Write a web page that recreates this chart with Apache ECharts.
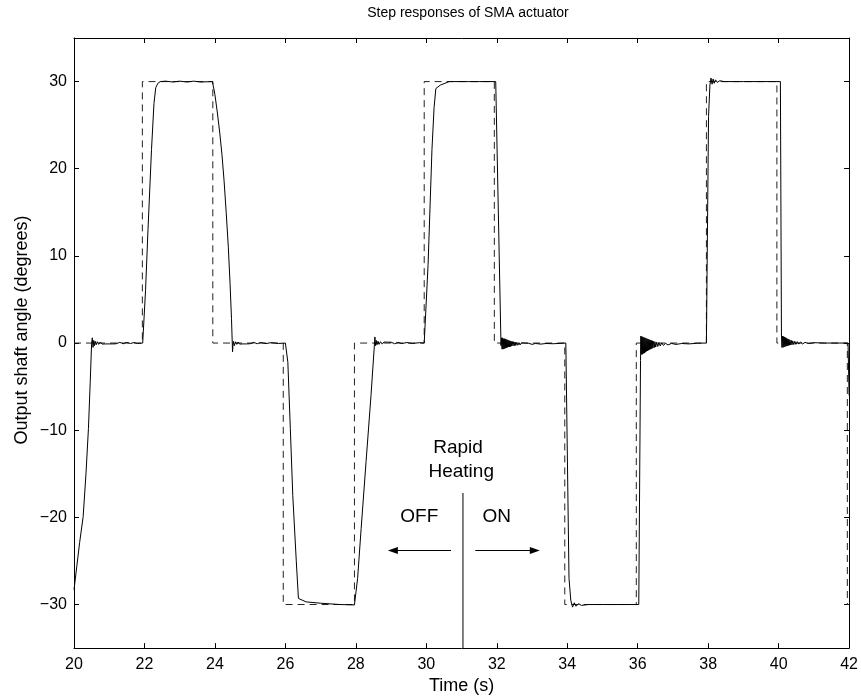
<!DOCTYPE html>
<html>
<head>
<meta charset="utf-8">
<script src="https://cdn.jsdelivr.net/npm/echarts@6/dist/echarts.min.js"></script>
<style>
html,body{margin:0;padding:0;background:#fff;}
#chart{width:861px;height:700px;}
</style>
</head>
<body>
<div id="chart"></div>
<script>
// ---- Data ----
var xTicks = [20, 22, 24, 26, 28, 30, 32, 34, 36, 38, 40, 42];
var yTicks = [-30, -20, -10, 0, 10, 20, 30];

// Reference command (dashed), [time s, angle deg]
var reference = [
  [20, 0], [21.94, 0], [21.94, 30], [23.94, 30], [23.94, 0], [25.94, 0], [25.94, -30],
  [27.96, -30], [27.96, 0], [29.94, 0], [29.94, 30], [31.93, 30], [31.93, 0],
  [33.93, 0], [33.93, -30], [35.96, -30], [35.96, 0], [37.95, 0], [37.95, 30],
  [39.95, 30], [39.95, 0], [41.95, 0], [41.95, -30], [42, -30]
];

// Measured response, rapid heating OFF (20 - 31 s)
var responseOff = [
  [20.00, -28.3], [20.08, -25.6], [20.16, -22.9], [20.26, -19.9], [20.34, -15.0],
  [20.41, -9.8], [20.46, -4.5], [20.50, 0.0], [20.52, 0.6], [20.54, -0.5], [20.56, 0.3],
  [20.58, -0.3], [20.60, 0.2], [20.63, -0.2], [20.66, 0.15], [20.70, -0.15], [20.75, 0.12],
  [20.80, -0.12], [20.85, 0.1], [20.90, -0.1], [20.95, 0.1], [21.00, -0.1], [21.05, 0.1],
  [21.10, -0.1], [21.15, 0.08], [21.20, -0.08], [21.30, 0.08], [21.40, -0.08], [21.50, 0.08],
  [21.60, -0.06], [21.70, 0.06], [21.80, -0.05], [21.95, 0.0],
  [22.03, 6.0], [22.10, 13.0], [22.20, 22.2], [22.27, 27.5], [22.32, 29.3], [22.38, 29.8],
  [22.45, 30.0], [22.60, 30.05], [22.80, 29.95], [23.00, 30.05], [23.20, 29.95], [23.40, 30.05],
  [23.60, 29.95], [23.93, 30.0],
  [24.00, 28.5], [24.07, 26.4], [24.14, 24.0], [24.20, 21.6], [24.26, 18.6], [24.32, 15.0],
  [24.38, 11.0], [24.43, 6.8], [24.47, 2.8], [24.50, -1.0], [24.52, 0.2], [24.55, -0.3],
  [24.58, 0.15], [24.62, -0.15], [24.66, 0.12], [24.70, -0.12], [24.75, 0.1], [24.80, -0.1],
  [24.85, 0.1], [24.90, -0.1], [24.95, 0.08], [25.00, -0.08], [25.10, 0.08], [25.20, -0.08],
  [25.30, 0.06], [25.45, -0.06], [25.60, 0.05], [25.80, -0.05], [26.00, 0.0],
  [26.07, -2.2], [26.14, -9.8], [26.21, -17.5], [26.31, -25.1], [26.37, -29.3], [26.59, -29.7],
  [27.00, -29.85], [27.54, -30.0], [27.96, -30.05],
  [28.05, -27.0], [28.15, -21.3], [28.29, -13.6], [28.43, -6.0], [28.53, 0.0], [28.54, 0.7],
  [28.56, -0.3], [28.58, 0.3], [28.60, -0.2], [28.63, 0.2], [28.66, -0.15], [28.70, 0.15],
  [28.75, -0.12], [28.80, 0.12], [28.85, -0.1], [28.90, 0.1], [28.95, -0.1], [29.00, 0.1],
  [29.10, -0.08], [29.20, 0.08], [29.30, -0.06], [29.45, 0.06], [29.60, -0.05], [29.80, 0.04],
  [29.94, 0.0],
  [30.05, 9.0], [30.16, 22.2], [30.22, 27.0], [30.27, 29.2], [30.40, 29.6], [30.65, 30.0],
  [30.90, 30.0]
];

// Measured response, rapid heating ON (31 - 42 s)
var responseOn = [
  [30.90, 30.0], [31.20, 30.0], [31.50, 30.0], [31.97, 30.0],
  [32.12, -0.3], [32.135, 0.6], [32.15, -0.7], [32.165, 0.6], [32.18, -0.7], [32.195, 0.5],
  [32.21, -0.65], [32.225, 0.5], [32.24, -0.6], [32.255, 0.45], [32.27, -0.55], [32.285, 0.4],
  [32.30, -0.5], [32.315, 0.35], [32.33, -0.45], [32.345, 0.3], [32.36, -0.42], [32.375, 0.25],
  [32.39, -0.4], [32.405, 0.22], [32.42, -0.35], [32.44, 0.18], [32.46, -0.32], [32.48, 0.15],
  [32.50, -0.3], [32.52, 0.1], [32.54, -0.28], [32.57, 0.08], [32.60, -0.25], [32.63, 0.05],
  [32.66, -0.22], [32.70, 0.02], [32.74, -0.2], [32.78, 0.0], [32.83, -0.18], [32.90, -0.02],
  [33.00, -0.15], [33.10, -0.05], [33.25, -0.12], [33.40, -0.05], [33.60, -0.08], [33.96, 0.0],
  [34.05, -27.0], [34.10, -29.5], [34.15, -30.3], [34.20, -29.8], [34.25, -30.2], [34.32, -29.9],
  [34.40, -30.1], [34.60, -30.0], [35.00, -30.0], [35.50, -30.0], [36.03, -30.0],
  [36.08, -2.0], [36.09, 0.8], [36.10, -1.3], [36.115, 0.75], [36.13, -1.3], [36.145, 0.7],
  [36.16, -1.2], [36.175, 0.65], [36.19, -1.15], [36.205, 0.6], [36.22, -1.05], [36.235, 0.55],
  [36.25, -0.95], [36.265, 0.5], [36.28, -0.9], [36.295, 0.45], [36.31, -0.82], [36.325, 0.4],
  [36.34, -0.75], [36.355, 0.35], [36.37, -0.7], [36.385, 0.3], [36.40, -0.64], [36.415, 0.26],
  [36.43, -0.58], [36.45, 0.2], [36.47, -0.52], [36.49, 0.15], [36.51, -0.46], [36.54, 0.1],
  [36.57, -0.4], [36.60, 0.05], [36.64, -0.34], [36.68, 0.02], [36.73, -0.28], [36.79, -0.02],
  [36.86, -0.22], [36.96, -0.04], [37.08, -0.16], [37.25, -0.05], [37.45, -0.1], [37.70, -0.02],
  [37.95, 0.0],
  [38.01, 26.0], [38.05, 29.6], [38.08, 30.4], [38.11, 29.7], [38.14, 30.3], [38.17, 29.8],
  [38.21, 30.2], [38.26, 29.9], [38.33, 30.1], [38.45, 30.0], [39.00, 30.0], [39.50, 30.0],
  [40.05, 30.0],
  [40.08, 0.8], [40.095, -0.5], [40.11, 0.8], [40.125, -0.5], [40.14, 0.75], [40.155, -0.45],
  [40.17, 0.7], [40.185, -0.4], [40.20, 0.62], [40.215, -0.36], [40.23, 0.55], [40.245, -0.32],
  [40.26, 0.48], [40.275, -0.28], [40.29, 0.42], [40.305, -0.25], [40.32, 0.36], [40.34, -0.22],
  [40.36, 0.3], [40.38, -0.2], [40.40, 0.25], [40.43, -0.17], [40.46, 0.2], [40.49, -0.15],
  [40.53, 0.16], [40.57, -0.12], [40.62, 0.12], [40.68, -0.1], [40.75, 0.08], [40.85, -0.06],
  [41.00, 0.04], [41.30, 0.0], [41.70, 0.0], [41.97, 0.0], [42.00, -6.0]
];

// Annotation
var divider = [[31.04, -17.2], [31.04, -35]];
var arrowOff = [[30.70, -23.8], [29.05, -23.8]];
var arrowOn = [[31.39, -23.8], [33.08, -23.8]];
var annotations = [
  { name: 'Rapid', value: [30.90, -12.0] },
  { name: 'Heating', value: [30.99, -14.8] },
  { name: 'OFF', value: [29.80, -19.9] },
  { name: 'ON', value: [32.00, -19.9] }
];

// ---- Chart ----
var FONT = '"Liberation Sans", Arial, Helvetica, sans-serif';
var minusFmt = function (v) { return String(v).replace('-', '\u2212'); };

function xAxisDef(pos, showLabel) {
  return {
    type: 'value', position: pos, min: 20, max: 42, interval: 2,
    name: pos === 'bottom' ? 'Time (s)' : '', nameLocation: 'middle', nameGap: 25,
    nameTextStyle: { fontFamily: FONT, fontSize: 18, color: '#000' },
    axisLine: { show: true, onZero: false, lineStyle: { color: '#000', width: 1 } },
    axisTick: { show: true, inside: true, length: 5, customValues: xTicks, lineStyle: { color: '#000' } },
    axisLabel: { show: showLabel, customValues: xTicks, margin: 8, fontFamily: FONT, fontSize: 16, color: '#000', formatter: minusFmt },
    splitLine: { show: false }
  };
}
function yAxisDef(pos, showLabel) {
  return {
    type: 'value', position: pos, min: -35, max: 35,
    axisLine: { show: true, onZero: false, lineStyle: { color: '#000', width: 1 } },
    axisTick: { show: true, inside: true, length: 5, customValues: yTicks, lineStyle: { color: '#000' } },
    axisLabel: { show: showLabel, customValues: yTicks, margin: 7, fontFamily: FONT, fontSize: 16, color: '#000', formatter: minusFmt },
    splitLine: { show: false }
  };
}

var chart = echarts.init(document.getElementById('chart'), null, { renderer: 'canvas' });
chart.setOption({
  animation: false,
  backgroundColor: '#fff',
  title: {
    text: 'Step responses of SMA actuator', left: 463, top: 1, textAlign: 'center',
    textStyle: { fontFamily: FONT, fontSize: 14, fontWeight: 'normal', color: '#000' }
  },
  graphic: [{
    type: 'text', x: 22, y: 330, rotation: Math.PI / 2, silent: true,
    style: {
      text: 'Output shaft angle (degrees)', fontFamily: FONT, fontSize: 18, fill: '#000',
      align: 'center', verticalAlign: 'middle'
    }
  }],
  grid: { left: 74, right: 10, top: 38, bottom: 49.5, containLabel: false },
  xAxis: [xAxisDef('bottom', true), xAxisDef('top', false)],
  yAxis: [yAxisDef('left', true), yAxisDef('right', false)],
  series: [
    {
      type: 'line', data: reference, showSymbol: false, symbol: 'none',
      lineStyle: { color: '#222', width: 1, type: [7, 5] }, silent: true
    },
    {
      type: 'line', data: responseOff, showSymbol: false, symbol: 'none',
      lineStyle: { color: '#000', width: 1 }, silent: true
    },
    {
      type: 'line', data: responseOn, showSymbol: false, symbol: 'none',
      lineStyle: { color: '#000', width: 1 }, silent: true
    },
    {
      type: 'line', data: divider, showSymbol: false, symbol: 'none',
      lineStyle: { color: '#000', width: 1 }, silent: true
    },
    {
      type: 'line', data: [], silent: true,
      markLine: {
        silent: true, animation: false, symbol: ['none', 'triangle'], symbolSize: [7, 10],
        lineStyle: { color: '#000', type: 'solid', width: 1 },
        label: { show: false },
        data: [
          [{ coord: arrowOff[0] }, { coord: arrowOff[1] }],
          [{ coord: arrowOn[0] }, { coord: arrowOn[1] }]
        ]
      }
    },
    {
      type: 'scatter', data: annotations, symbolSize: 0, silent: true,
      itemStyle: { color: '#000', opacity: 0 },
      label: {
        show: true, position: [0, 0], align: 'center', verticalAlign: 'middle', formatter: '{b}',
        fontFamily: FONT, fontSize: 19, color: '#000', opacity: 1
      }
    }
  ]
});
</script>
</body>
</html>
